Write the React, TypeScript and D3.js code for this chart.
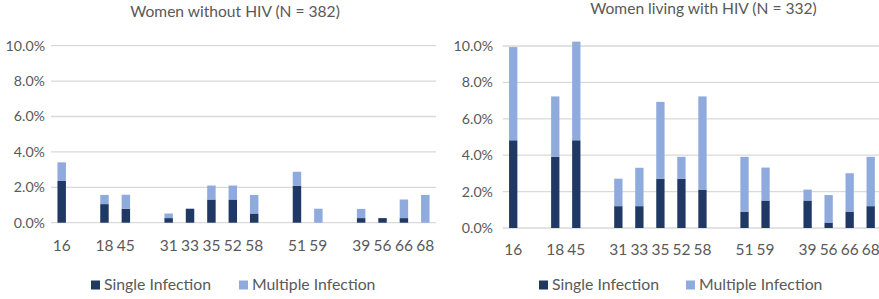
import React from "react";
import * as d3 from "d3";

// ---- data ----
const categories = ["16", "", "18", "45", "", "31", "33", "35", "52", "58", "", "51", "59", "", "39", "56", "66", "68"];
const seriesNames = ["Single Infection", "Multiple Infection"];
const yTicks = [0, 2, 4, 6, 8, 10];

const negTitle = "Women without HIV (N = 382)";
const negSingle = [2.36, null, 1.05, 0.79, null, 0.26, 0.79, 1.31, 1.31, 0.52, null, 2.09, 0, null, 0.26, 0.26, 0.26, 0];
const negMultiple = [1.05, null, 0.52, 0.79, null, 0.26, 0, 0.79, 0.79, 1.05, null, 0.79, 0.79, null, 0.52, 0, 1.05, 1.57];

const posTitle = "Women living with HIV (N = 332)";
const posSingle = [4.82, null, 3.92, 4.82, null, 1.2, 1.2, 2.71, 2.71, 2.11, null, 0.9, 1.51, null, 1.51, 0.3, 0.9, 1.2];
const posMultiple = [5.12, null, 3.31, 5.42, null, 1.51, 2.11, 4.22, 1.2, 5.12, null, 3.01, 1.81, null, 0.6, 1.51, 2.11, 2.71];

const COLORS = ["#203864", "#8faadc"];
const TEXT = "#595959";
const GRID = "#d9d9d9";
const FONT = "Lato, 'Open Sans', sans-serif";

type PanelCfg = {
  title: string;
  single: (number | null)[];
  multiple: (number | null)[];
  x0: number;
  x1: number;
  yTop: number;
  yBase: number;
  gridEnd: number;
  tickRight: number;
  titleX: number;
  titleY: number;
  catY: number;
  legSq1: number;
  legSq2: number;
  legY: number;
};

function Panel({ cfg }: { cfg: PanelCfg }) {
  const keys = categories.map((c, i) => `${i}:${c}`);
  const x = d3.scaleBand<string>().domain(keys).range([cfg.x0, cfg.x1]).paddingInner(0.605).paddingOuter(0.3025);
  const y = d3.scaleLinear().domain([0, 10]).range([cfg.yBase, cfg.yTop]);
  const rows = keys.map((k, i) => ({ key: k, s: cfg.single[i] ?? 0, m: cfg.multiple[i] ?? 0, blank: cfg.single[i] == null }));
  const stack = d3.stack<any>().keys(["s", "m"]);
  const layers = stack(rows);
  const bw = x.bandwidth();
  return (
    <g>
      <text x={cfg.titleX} y={cfg.titleY} textAnchor="middle" fontSize={15.6} fill={TEXT} fontFamily={FONT}>
        {cfg.title}
      </text>
      {yTicks.map((t) => (
        <g key={t}>
          <line x1={cfg.x0} x2={cfg.gridEnd} y1={y(t)} y2={y(t)} stroke={GRID} strokeWidth={1.3} />
          <text x={cfg.tickRight} y={y(t)} dy="0.35em" textAnchor="end" fontSize={14.2} fill={TEXT} fontFamily={FONT}>
            {d3.format(".1f")(t) + "%"}
          </text>
        </g>
      ))}
      {layers.map((layer, li) => (
        <g key={li} fill={COLORS[li]}>
          {layer.map((d, i) =>
            rows[i].blank || d[1] - d[0] <= 0 ? null : (
              <rect key={i} x={x(rows[i].key)!} width={bw} y={y(d[1])} height={y(d[0]) - y(d[1])} />
            )
          )}
        </g>
      ))}
      {keys.map((k, i) => (
        <text key={k} x={x(k)! + bw / 2} y={cfg.catY} textAnchor="middle" fontSize={15.5} fill={TEXT} fontFamily={FONT}>
          {categories[i]}
        </text>
      ))}
      {seriesNames.map((n, i) => {
        const sx = i === 0 ? cfg.legSq1 : cfg.legSq2;
        return (
          <g key={n}>
            <rect x={sx} y={cfg.legY - 9.5} width={9} height={9} fill={COLORS[i]} />
            <text x={sx + 13} y={cfg.legY} fontSize={15.8} fill={TEXT} fontFamily={FONT}>
              {n}
            </text>
          </g>
        );
      })}
    </g>
  );
}

const left: PanelCfg = {
  title: negTitle, single: negSingle, multiple: negMultiple,
  x0: 51, x1: 436, yTop: 45.7, yBase: 222.7, gridEnd: 436, tickRight: 45,
  titleX: 235, titleY: 16.5, catY: 251, legSq1: 91, legSq2: 239, legY: 290,
};
const right: PanelCfg = {
  title: posTitle, single: posSingle, multiple: posMultiple,
  x0: 502.7, x1: 881.2, yTop: 46, yBase: 228, gridEnd: 879, tickRight: 493,
  titleX: 703.5, titleY: 13.5, catY: 255, legSq1: 539, legSq2: 686, legY: 290,
};

export default function App() {
  return (
    <svg width={879} height={299} style={{ position: "absolute", left: 0, top: 0, background: "#fff" }}>
      <rect width={879} height={299} fill="#fff" />
      <Panel cfg={left} />
      <Panel cfg={right} />
    </svg>
  );
}
